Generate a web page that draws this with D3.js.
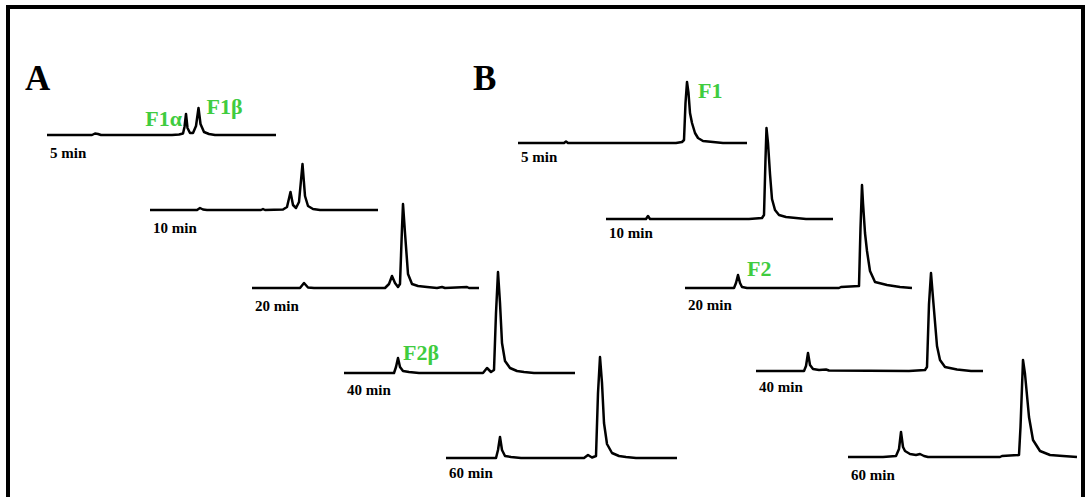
<!DOCTYPE html>
<html>
<head>
<meta charset="utf-8">
<script src="https://cdn.jsdelivr.net/npm/d3@7"></script>
<style>
  body { margin: 0; background: #fff; }
  text { font-family: "Liberation Serif", "Times New Roman", serif; font-weight: bold; }
</style>
</head>
<body>
<script>
// chromatogram traces: [retention time, signal]
const traceA5 = [[0,0],[4.5,0],[4.8,1.5],[5.1,1],[5.4,0],[12.5,0],[13.2,0.5],[13.6,1.5],[13.75,8],[13.9,21],[14.05,7],[14.3,2],[14.6,2],[14.9,9],[15.15,27],[15.35,11],[15.7,3],[16.2,1],[16.8,0],[22.9,0]];
const traceA10 = [[0,0],[4.7,0],[5.0,2],[5.3,0.5],[5.7,0],[11.1,0],[11.3,1],[11.5,0],[13.3,0.5],[13.7,3],[14.05,18],[14.3,5],[14.6,2],[14.9,8],[15.25,46],[15.5,14],[15.8,4],[16.3,1],[17,0],[22.8,0]];
const traceA20 = [[0,0],[4.8,0],[5.2,5],[5.6,0.5],[6.2,0],[13.3,0],[13.7,4],[14.0,12],[14.3,5],[14.6,1],[14.8,4],[15.0,60],[15.1,84],[15.3,55],[15.6,14],[16.0,4],[16.6,2],[17.5,1],[18.5,0],[19.0,1],[19.3,0],[21.5,1],[21.7,0],[22.7,0]];
const traceA40 = [[0,0],[5.0,0],[5.2,6],[5.4,15],[5.6,6],[5.9,2],[6.5,1],[7.5,0],[13.9,0],[14.3,5],[14.7,1],[15.0,3],[15.2,60],[15.4,101],[15.6,70],[15.8,30],[16.1,12],[16.6,5],[17.3,2],[18,1],[19,0],[23.1,0]];
const traceA60 = [[0,0],[5.0,0],[5.2,8],[5.4,21],[5.6,8],[5.9,2],[6.5,1],[7.5,0],[13.8,0],[14.2,3],[14.6,0.5],[15.0,2],[15.2,65],[15.4,101],[15.6,75],[15.8,35],[16.1,14],[16.6,5],[17.3,2],[18,1],[19,0],[23.1,0]];

const traceB5 = [[0,0],[4.6,0],[4.8,1.5],[5.0,0],[15.8,0],[16.4,1],[16.6,3],[16.75,40],[16.9,61],[17.05,50],[17.2,30],[17.4,20],[17.7,10],[18.0,5],[18.5,2],[19.5,1],[20.5,0],[22.9,0]];
const traceB10 = [[0,0],[4.0,0],[4.2,3],[4.4,0],[14.3,0],[15.6,1],[15.8,4],[15.95,60],[16.05,91],[16.2,76],[16.4,45],[16.6,20],[16.9,9],[17.3,4],[18,2],[19,1],[20,0],[22.7,0]];
const traceB20 = [[0,0],[4.9,0],[5.1,5],[5.3,13],[5.5,5],[5.7,1],[6.2,0],[15.4,0],[15.6,1],[17.4,2],[17.55,60],[17.7,103],[17.8,85],[18.0,55],[18.2,37],[18.5,17],[19.0,6],[20.2,3],[21.5,1],[22.7,0]];
const traceB40 = [[0,0],[4.8,0],[5.0,5],[5.2,18],[5.4,6],[5.7,2],[6.3,1],[7.0,1.5],[7.3,0.5],[15.3,0],[16.9,1],[17.1,4],[17.3,67],[17.5,98],[17.7,73],[18.1,25],[18.4,11],[18.9,4],[20.1,1.5],[21.5,0],[22.7,0]];
const traceB60 = [[0,0],[3.5,0],[4.8,1],[5.1,8],[5.3,25],[5.5,10],[5.7,6],[6.2,3],[6.8,2],[7.2,3],[7.6,1],[8.0,0],[15.2,0],[15.4,1],[17.1,2],[17.25,30],[17.5,97],[17.7,83],[18.1,40],[18.5,17],[19.2,6],[20.2,2],[21.5,1],[22.9,0]];

const panelLetters = ['A', 'B'];
const timeLabels = ['5 min', '10 min', '20 min', '40 min', '60 min'];
const tracesA = [traceA5, traceA10, traceA20, traceA40, traceA60];
const tracesB = [traceB5, traceB10, traceB20, traceB40, traceB60];

// peak names: [panel, trace index, retention time, name]
const peakNames = [
    ['A', 0, 13.9, 'F1α'],
    ['A', 0, 15.15, 'F1β'],
    ['A', 3, 5.4, 'F2β'],
    ['B', 0, 16.9, 'F1'],
    ['B', 2, 5.3, 'F2']
];

// layout: where each trace sits (baseline origin) and its label offset
const layout = {
    A: { letter: [25, 90], origins: [[47, 135], [150, 210], [252, 288], [344, 373], [446, 458]],
         labelDy: [23, 23, 23, 22, 20] },
    B: { letter: [473, 90], origins: [[518, 143], [606, 219], [685, 288], [756, 371], [848, 457]],
         labelDy: [19, 19, 22, 21, 23] }
};
// name label offsets from the peak [dx, dy, anchor]
const nameOffsets = [[-4, -9, 'end'], [8, -21, 'start'], [5, -13, 'start'], [11, -45, 'start'], [9, -12, 'start']];

const width = 1085, height = 497;
const green = '#3fcc3f';

const svg = d3.select('body')
    .append('svg')
    .attr('width', width)
    .attr('height', height);

// frame
svg.append('path')
    .attr('d', `M8,${height + 5} L8,7 L1083,7 L1083,${height + 5}`)
    .attr('fill', 'none')
    .attr('stroke', '#000')
    .attr('stroke-width', 4);

const x = d3.scaleLinear().domain([0, 22.9]).range([0, 229]);
const y = d3.scaleLinear().domain([0, 100]).range([0, -100]);

const line = d3.line()
    .x(d => x(d[0]))
    .y(d => y(d[1]));

const panels = { A: tracesA, B: tracesB };

panelLetters.forEach(p => {
    const lay = layout[p];

    svg.append('text')
        .attr('x', lay.letter[0])
        .attr('y', lay.letter[1])
        .attr('font-size', 35)
        .attr('fill', '#000')
        .text(p);

    const groups = svg.selectAll(`g.trace${p}`)
        .data(panels[p])
        .enter()
        .append('g')
        .attr('class', `trace${p}`)
        .attr('transform', (d, i) => `translate(${ lay.origins[i][0] }, ${ lay.origins[i][1] })`);

    groups.append('path')
        .attr('d', line)
        .attr('fill', 'none')
        .attr('stroke', '#000')
        .attr('stroke-width', 2.5)
        .attr('stroke-linejoin', 'round');

    groups.append('text')
        .attr('x', 3)
        .attr('y', (d, i) => lay.labelDy[i])
        .attr('font-size', 15)
        .attr('fill', '#000')
        .text((d, i) => timeLabels[i]);
});

// peak names
peakNames.forEach((pk, k) => {
    const [p, idx, t, name] = pk;
    const o = layout[p].origins[idx];
    const off = nameOffsets[k];
    svg.append('text')
        .attr('x', o[0] + x(t) + off[0])
        .attr('y', o[1] + off[1])
        .attr('text-anchor', off[2])
        .attr('font-size', 22)
        .attr('fill', green)
        .text(name);
});
</script>
</body>
</html>
